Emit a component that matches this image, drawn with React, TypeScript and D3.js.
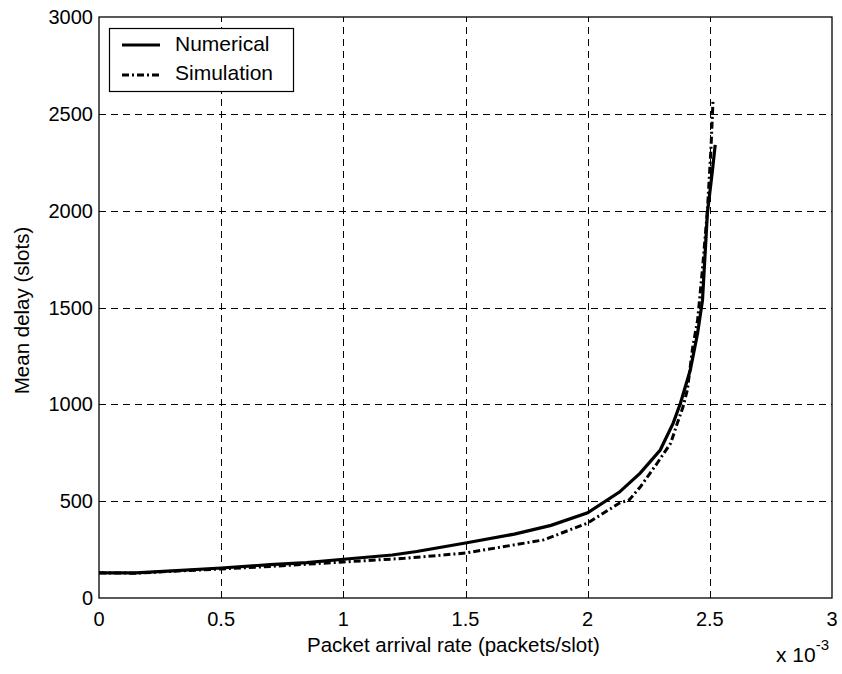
import React, { useEffect, useRef } from "react";
import * as d3 from "d3";

// x values are in units of 1e-3 packets/slot
const numericalX = [0, 0.15, 0.3, 0.5, 0.7, 0.85, 1.0, 1.2, 1.3, 1.5, 1.7, 1.85, 2.0, 2.13, 2.215, 2.297, 2.35, 2.38, 2.42, 2.45, 2.47, 2.49, 2.51, 2.522];
const numericalY = [130, 130, 140, 155, 172, 183, 200, 222, 240, 284, 330, 375, 440, 547, 645, 764, 903, 1007, 1177, 1368, 1538, 1988, 2200, 2340];

const simulationX = [0, 0.15, 0.3, 0.5, 0.7, 1.0, 1.25, 1.5, 1.82, 2.0, 2.13, 2.17, 2.215, 2.285, 2.34, 2.367, 2.39, 2.408, 2.43, 2.45, 2.47, 2.49, 2.505, 2.513];
const simulationY = [130, 128, 138, 150, 163, 186, 205, 232, 300, 387, 490, 506, 573, 697, 800, 903, 986, 1074, 1296, 1435, 1700, 2000, 2330, 2570];

const xTicks = [0, 0.5, 1, 1.5, 2, 2.5, 3];
const yTicks = [0, 500, 1000, 1500, 2000, 2500, 3000];

const App: React.FC = () => {
  const svgRef = useRef<SVGSVGElement | null>(null);

  useEffect(() => {
    const width = 842;
    const height = 674;
    const margin = { top: 17, right: 10, bottom: 76, left: 99 };
    const font = "'Liberation Sans', Arial, sans-serif";

    const svg = d3.select(svgRef.current);
    svg.selectAll("*").remove();
    svg.attr("width", width).attr("height", height);

    svg.append("rect").attr("width", width).attr("height", height).attr("fill", "white");

    const x = d3.scaleLinear().domain([0, 3]).range([margin.left, width - margin.right]);
    const y = d3.scaleLinear().domain([0, 3000]).range([height - margin.bottom, margin.top]);

    // Grid
    const grid = svg.append("g").attr("stroke", "#000").attr("stroke-width", 1).attr("stroke-dasharray", "7,5");
    xTicks.slice(1, -1).forEach(t => {
      grid.append("line")
        .attr("x1", Math.round(x(t)) + 0.5).attr("x2", Math.round(x(t)) + 0.5)
        .attr("y1", y(0)).attr("y2", y(3000));
    });
    yTicks.slice(1, -1).forEach(t => {
      grid.append("line")
        .attr("x1", x(0)).attr("x2", x(3))
        .attr("y1", Math.round(y(t)) + 0.5).attr("y2", Math.round(y(t)) + 0.5);
    });

    // Lines
    const line = d3.line<[number, number]>().x(d => x(d[0])).y(d => y(d[1]));
    const num = numericalX.map((v, i) => [v, numericalY[i]] as [number, number]);
    const sim = simulationX.map((v, i) => [v, simulationY[i]] as [number, number]);

    svg.append("path")
      .attr("d", line(sim)!)
      .attr("fill", "none")
      .attr("stroke", "#000")
      .attr("stroke-width", 3)
      .attr("stroke-dasharray", "7,3,2,3");

    svg.append("path")
      .attr("d", line(num)!)
      .attr("fill", "none")
      .attr("stroke", "#000")
      .attr("stroke-width", 3.2);

    // Axes box
    svg.append("rect")
      .attr("x", x(0)).attr("y", y(3000))
      .attr("width", x(3) - x(0)).attr("height", y(0) - y(3000))
      .attr("fill", "none").attr("stroke", "#000").attr("stroke-width", 1.3);

    // Tick labels
    xTicks.forEach(t => {
      svg.append("text")
        .attr("x", x(t)).attr("y", y(0) + 28)
        .attr("text-anchor", "middle")
        .attr("font-family", font).attr("font-size", 20)
        .text(String(t));
    });
    yTicks.forEach(t => {
      svg.append("text")
        .attr("x", x(0) - 6).attr("y", y(t) + 7)
        .attr("text-anchor", "end")
        .attr("font-family", font).attr("font-size", 20)
        .text(String(t));
    });

    // Axis labels
    svg.append("text")
      .attr("x", 307).attr("y", 652)
      .attr("font-family", font).attr("font-size", 20.5)
      .text("Packet arrival rate (packets/slot)");

    svg.append("text")
      .attr("transform", `translate(29,${(y(0) + y(3000)) / 2 + 3}) rotate(-90)`)
      .attr("text-anchor", "middle")
      .attr("font-family", font).attr("font-size", 20.5)
      .text("Mean delay (slots)");

    // x 10^-3
    const exp = svg.append("text")
      .attr("x", 776).attr("y", 662)
      .attr("font-family", font).attr("font-size", 21);
    exp.append("tspan").text("x 10");
    exp.append("tspan").attr("dy", -12).attr("font-size", 15).text("-3");

    // Legend
    const legend = svg.append("g");
    legend.append("rect")
      .attr("x", 109.5).attr("y", 28.5).attr("width", 184).attr("height", 63)
      .attr("fill", "white").attr("stroke", "#000").attr("stroke-width", 1.2);
    legend.append("line")
      .attr("x1", 122).attr("x2", 160).attr("y1", 45).attr("y2", 45)
      .attr("stroke", "#000").attr("stroke-width", 3);
    legend.append("line")
      .attr("x1", 122).attr("x2", 160).attr("y1", 75).attr("y2", 75)
      .attr("stroke", "#000").attr("stroke-width", 3).attr("stroke-dasharray", "7,3,2,3");
    legend.append("text")
      .attr("x", 175).attr("y", 51)
      .attr("font-family", font).attr("font-size", 21)
      .text("Numerical");
    legend.append("text")
      .attr("x", 175).attr("y", 80)
      .attr("font-family", font).attr("font-size", 21)
      .text("Simulation");
  }, []);

  return (
    <svg
      ref={svgRef}
      style={{ position: "absolute", left: 0, top: 0, display: "block" }}
    ></svg>
  );
};

export default App;
